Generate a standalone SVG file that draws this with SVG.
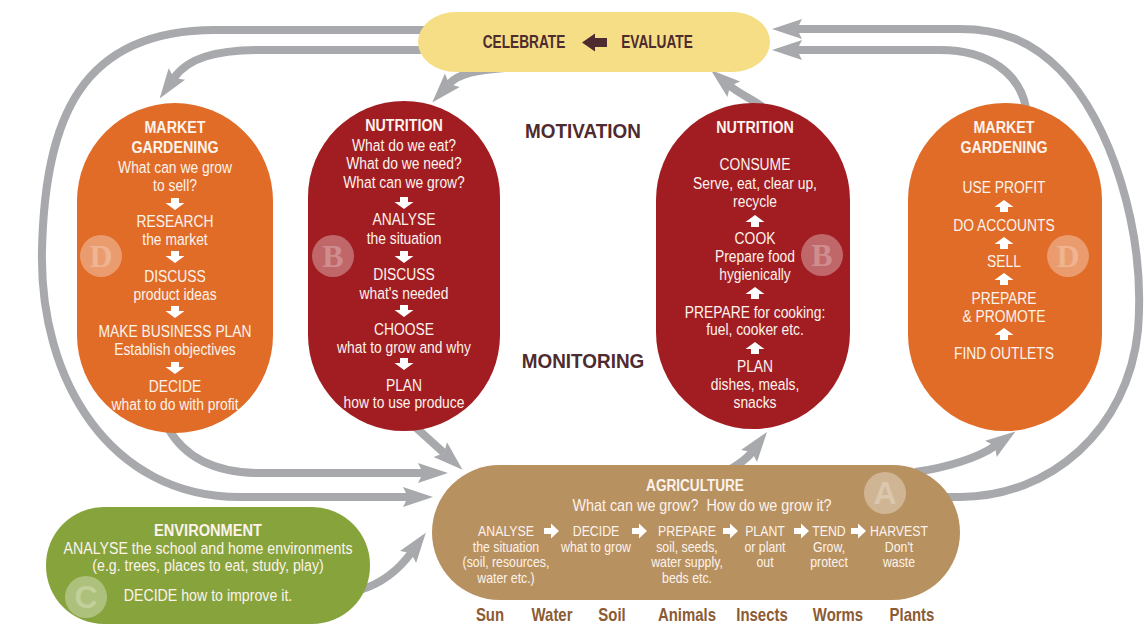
<svg xmlns="http://www.w3.org/2000/svg" xmlns:xlink="http://www.w3.org/1999/xlink" width="1144" height="627" viewBox="0 0 1144 627">
<style>
text { font-family: "Liberation Sans", Arial, sans-serif; text-anchor: middle; }
.w { fill: #fdf3ec; font-size: 16.5px; }
.wh { fill: #fdf3ec; font-size: 17px; font-weight: bold; }
.ws { fill: #fdf3ec; font-size: 14px; }
.dk { fill: #4e2b2f; font-weight: bold; }
.soil { fill: #8b5b33; font-size: 18px; font-weight: bold; }
.con { fill: none; stroke: #a7a9ac; stroke-width: 8; marker-end: url(#ah); }
.bc { fill: #ffffff; fill-opacity: 0.33; }
.bl { fill: #ffffff; fill-opacity: 0.25; font-family: "Liberation Serif", serif; font-weight: bold; font-size: 32px; }
.arr { fill: #ffffff; }
</style>
<defs>
<marker id="ah" markerUnits="userSpaceOnUse" markerWidth="32" markerHeight="22" viewBox="0 0 32 22" refX="5" refY="11" orient="auto">
<path d="M0,1 L30,11 L0,21 L5,11 Z" fill="#a7a9ac"/>
</marker>
<path id="dn" d="M-4,-6 H4 V-1 H9.5 L0,6 L-9.5,-1 H-4 Z"/>
<path id="up" d="M-4,6 H4 V1 H9.5 L0,-6 L-9.5,1 H-4 Z"/>
<path id="rt" d="M-7,-3 H0 V-7.5 L8,0 L0,7.5 V3 H-7 Z"/>
</defs>

<g id="connectors">
<path class="con" d="M440,30 L215,30 C80,30 45,120 42,250 C39,380 110,497 240,497 L408,497"/>
<path class="con" d="M430,50 L262,50 C215,50 188,58 174,78"/>
<path class="con" d="M505,68 C478,70 459,73 449,84"/>
<path class="con" d="M768,112 C760,102 742,96 730,86"/>
<path class="con" d="M945,497 L960,497 C1050,497 1128,430 1138,330 C1146,230 1110,120 1060,70 C1030,40 1000,29 960,29 L797,29"/>
<path class="con" d="M1026,108 C1020,75 990,50 940,50 L797,50"/>
<path class="con" d="M168,428 C185,458 215,473 260,473 L423,473"/>
<path class="con" d="M412,424 L444,453"/>
<path class="con" d="M722,474 C735,467 746,460 752,452"/>
<path class="con" d="M915,472 C945,468 978,458 995,446"/>
<path class="con" d="M360,590 C383,583 400,568 411,553"/>
</g>

<g id="celebrate">
<rect x="418" y="12" width="352" height="60" rx="38" ry="30" fill="#f5de85"/>
<text class="dk" font-size="18" transform="translate(524 0) scale(0.76 1)" x="0" y="48">CELEBRATE</text>
<path d="M607,38 H595 V33.5 L582,42.5 L595,51.5 V47 H607 Z" fill="#4e2b2f"/>
<text class="dk" font-size="18" transform="translate(657 0) scale(0.76 1)" x="0" y="48">EVALUATE</text>
</g>

<g id="labels">
<text class="dk" font-size="21" transform="translate(583 0) scale(0.9 1)" x="0" y="138">MOTIVATION</text>
<text class="dk" font-size="21" transform="translate(583 0) scale(0.9 1)" x="0" y="368">MONITORING</text>
</g>

<g id="market-left">
<rect x="77" y="103" width="196" height="330" rx="98" fill="#e06c28"/>
<circle class="bc" cx="101" cy="256" r="21"/>
<text class="bl" x="101" y="267">D</text>
<use xlink:href="#dn" x="175" y="204" class="arr"/>
<use xlink:href="#dn" x="175" y="257" class="arr"/>
<use xlink:href="#dn" x="175" y="312" class="arr"/>
<use xlink:href="#dn" x="175" y="368" class="arr"/>
<g transform="translate(175 0) scale(0.84 1)">
<text class="wh" x="0" y="133">MARKET</text>
<text class="wh" x="0" y="153">GARDENING</text>
<text class="w" x="0" y="173">What can we grow</text>
<text class="w" x="0" y="191">to sell?</text>
<text class="w" x="0" y="227">RESEARCH</text>
<text class="w" x="0" y="245">the market</text>
<text class="w" x="0" y="282">DISCUSS</text>
<text class="w" x="0" y="300">product ideas</text>
<text class="w" x="0" y="337">MAKE BUSINESS PLAN</text>
<text class="w" x="0" y="355">Establish objectives</text>
<text class="w" x="0" y="392">DECIDE</text>
<text class="w" x="0" y="410">what to do with profit</text>
</g>
</g>

<g id="nutrition-left">
<rect x="308" y="101" width="192" height="330" rx="96" fill="#a11d22"/>
<circle class="bc" cx="333" cy="256" r="21"/>
<text class="bl" x="333" y="267">B</text>
<use xlink:href="#dn" x="404" y="203" class="arr"/>
<use xlink:href="#dn" x="404" y="257" class="arr"/>
<use xlink:href="#dn" x="404" y="311" class="arr"/>
<use xlink:href="#dn" x="404" y="364" class="arr"/>
<g transform="translate(404 0) scale(0.84 1)">
<text class="wh" x="0" y="131">NUTRITION</text>
<text class="w" x="0" y="151">What do we eat?</text>
<text class="w" x="0" y="169">What do we need?</text>
<text class="w" x="0" y="188">What can we grow?</text>
<text class="w" x="0" y="225">ANALYSE</text>
<text class="w" x="0" y="244">the situation</text>
<text class="w" x="0" y="280">DISCUSS</text>
<text class="w" x="0" y="299">what's needed</text>
<text class="w" x="0" y="335">CHOOSE</text>
<text class="w" x="0" y="353">what to grow and why</text>
<text class="w" x="0" y="391">PLAN</text>
<text class="w" x="0" y="408">how to use produce</text>
</g>
</g>

<g id="nutrition-right">
<rect x="656" y="103" width="194" height="326" rx="97" fill="#a11d22"/>
<circle class="bc" cx="822" cy="255" r="21"/>
<text class="bl" x="822" y="266">B</text>
<use xlink:href="#up" x="755" y="221" class="arr"/>
<use xlink:href="#up" x="755" y="293" class="arr"/>
<use xlink:href="#up" x="755" y="348" class="arr"/>
<g transform="translate(755 0) scale(0.84 1)">
<text class="wh" x="0" y="133">NUTRITION</text>
<text class="w" x="0" y="170">CONSUME</text>
<text class="w" x="0" y="189">Serve, eat, clear up,</text>
<text class="w" x="0" y="207">recycle</text>
<text class="w" x="0" y="244">COOK</text>
<text class="w" x="0" y="262">Prepare food</text>
<text class="w" x="0" y="280">hygienically</text>
<text class="w" x="0" y="318">PREPARE for cooking:</text>
<text class="w" x="0" y="335">fuel, cooker etc.</text>
<text class="w" x="0" y="372">PLAN</text>
<text class="w" x="0" y="390">dishes, meals,</text>
<text class="w" x="0" y="408">snacks</text>
</g>
</g>

<g id="market-right">
<rect x="908" y="103" width="194" height="328" rx="97" fill="#e06c28"/>
<circle class="bc" cx="1068" cy="256" r="21"/>
<text class="bl" x="1068" y="267">D</text>
<use xlink:href="#up" x="1004" y="206" class="arr"/>
<use xlink:href="#up" x="1004" y="243" class="arr"/>
<use xlink:href="#up" x="1004" y="279" class="arr"/>
<use xlink:href="#up" x="1004" y="334" class="arr"/>
<g transform="translate(1004 0) scale(0.84 1)">
<text class="wh" x="0" y="133">MARKET</text>
<text class="wh" x="0" y="153">GARDENING</text>
<text class="w" x="0" y="193">USE PROFIT</text>
<text class="w" x="0" y="231">DO ACCOUNTS</text>
<text class="w" x="0" y="267">SELL</text>
<text class="w" x="0" y="304">PREPARE</text>
<text class="w" x="0" y="322">&amp; PROMOTE</text>
<text class="w" x="0" y="359">FIND OUTLETS</text>
</g>
</g>

<g id="agriculture">
<rect x="432" y="465" width="528" height="135" rx="67.5" fill="#b89160"/>
<circle class="bc" cx="885" cy="493" r="21"/>
<text class="bl" x="885" y="504" style="font-family:'Liberation Sans',sans-serif">A</text>
<text class="wh" font-size="18" transform="translate(695 0) scale(0.8 1)" x="0" y="491">AGRICULTURE</text>
<text class="w" font-size="16.5" transform="translate(702 0) scale(0.87 1)" x="0" y="511">What can we grow?&#160; How do we grow it?</text>
<use xlink:href="#rt" x="551" y="531" class="arr"/>
<use xlink:href="#rt" x="639" y="531" class="arr"/>
<use xlink:href="#rt" x="730" y="531" class="arr"/>
<use xlink:href="#rt" x="801" y="531" class="arr"/>
<use xlink:href="#rt" x="858" y="531" class="arr"/>
<g transform="translate(506 0) scale(0.88 1)">
<text class="ws" x="0" y="536">ANALYSE</text>
<text class="ws" x="0" y="552">the situation</text>
<text class="ws" x="0" y="567">(soil, resources,</text>
<text class="ws" x="0" y="583">water etc.)</text>
</g>
<g transform="translate(596 0) scale(0.88 1)">
<text class="ws" x="0" y="536">DECIDE</text>
<text class="ws" x="0" y="552">what to grow</text>
</g>
<g transform="translate(687 0) scale(0.88 1)">
<text class="ws" x="0" y="536">PREPARE</text>
<text class="ws" x="0" y="552">soil, seeds,</text>
<text class="ws" x="0" y="567">water supply,</text>
<text class="ws" x="0" y="583">beds etc.</text>
</g>
<g transform="translate(765 0) scale(0.88 1)">
<text class="ws" x="0" y="536">PLANT</text>
<text class="ws" x="0" y="552">or plant</text>
<text class="ws" x="0" y="567">out</text>
</g>
<g transform="translate(829 0) scale(0.88 1)">
<text class="ws" x="0" y="536">TEND</text>
<text class="ws" x="0" y="552">Grow,</text>
<text class="ws" x="0" y="567">protect</text>
</g>
<g transform="translate(899 0) scale(0.88 1)">
<text class="ws" x="0" y="536">HARVEST</text>
<text class="ws" x="0" y="552">Don't</text>
<text class="ws" x="0" y="567">waste</text>
</g>
</g>

<g id="environment">
<rect x="46" y="507" width="324" height="117" rx="58" fill="#86a33c"/>
<circle class="bc" cx="86" cy="597" r="21"/>
<text class="bl" x="86" y="608" style="font-family:'Liberation Sans',sans-serif">C</text>
<g transform="translate(208 0) scale(0.86 1)">
<text class="wh" x="0" y="536">ENVIRONMENT</text>
<text class="w" x="0" y="554">ANALYSE the school and home environments</text>
<text class="w" x="0" y="571">(e.g. trees, places to eat, study, play)</text>
<text class="w" x="0" y="601">DECIDE how to improve it.</text>
</g>
</g>

<g id="resources">
<text class="soil" transform="translate(490 0) scale(0.83 1)" x="0" y="621">Sun</text>
<text class="soil" transform="translate(552 0) scale(0.83 1)" x="0" y="621">Water</text>
<text class="soil" transform="translate(612 0) scale(0.83 1)" x="0" y="621">Soil</text>
<text class="soil" transform="translate(687 0) scale(0.83 1)" x="0" y="621">Animals</text>
<text class="soil" transform="translate(762 0) scale(0.83 1)" x="0" y="621">Insects</text>
<text class="soil" transform="translate(838 0) scale(0.83 1)" x="0" y="621">Worms</text>
<text class="soil" transform="translate(912 0) scale(0.83 1)" x="0" y="621">Plants</text>
</g>
</svg>
